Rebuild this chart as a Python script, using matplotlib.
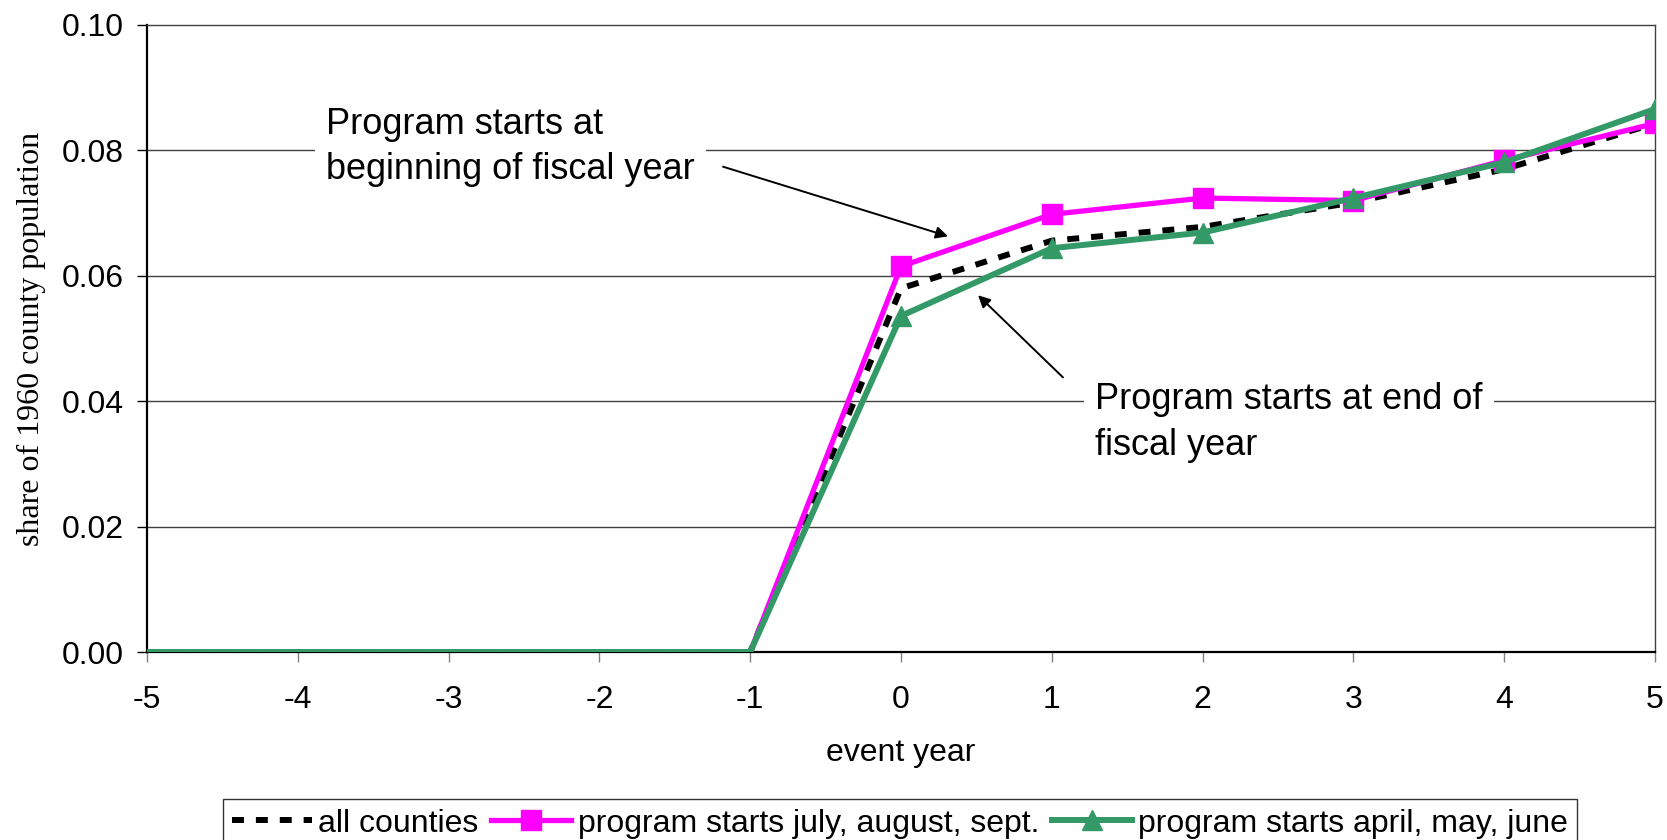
import matplotlib
matplotlib.use("Agg")
import matplotlib.pyplot as plt

plt.rcParams['font.family'] = ['Liberation Sans', 'DejaVu Sans']

# event years and series
years = [-5, -4, -3, -2, -1, 0, 1, 2, 3, 4, 5]
all_counties = [0, 0, 0, 0, 0, 0.0580, 0.0656, 0.0678, 0.0717, 0.0770, 0.0843]
july_sept = [0, 0, 0, 0, 0, 0.0615, 0.0698, 0.0724, 0.0720, 0.0784, 0.0843]
april_june = [0, 0, 0, 0, 0, 0.0536, 0.0644, 0.0669, 0.0724, 0.0781, 0.0866]

yticks = [0.00, 0.02, 0.04, 0.06, 0.08, 0.10]

W, H = 1667, 840
fig = plt.figure(figsize=(W / 100, H / 100), dpi=100)
ax = fig.add_axes([147 / W, 1 - 652 / H, (1655 - 147) / W, (652 - 25) / H])

ax.set_xlim(-5, 5)
ax.set_ylim(0, 0.1)

# gridlines
for y in yticks[1:-1]:
    ax.axhline(y, color='#404040', lw=1.0, zorder=1)

ax.plot(years, all_counties, color='black', lw=4.3, linestyle=(0, (2, 2)),
        label='all counties', zorder=3)
ax.plot(years, july_sept, color='#FF00FF', lw=3.8, marker='s', markersize=14,
        markevery=list(range(5, 11)), label='program starts july, august, sept.', zorder=4)
ax.plot(years, april_june, color='#339966', lw=4.3, marker='^', markersize=15,
        markevery=list(range(5, 11)), label='program starts april, may, june', zorder=5)

ax.set_xticks(years)
ax.set_xticklabels([str(y) for y in years])
ax.set_yticks(yticks)
ax.set_yticklabels(['%.2f' % y for y in yticks])
ax.tick_params(axis='x', direction='out', length=7, width=1, color='#808080',
               pad=17, labelsize=23)
ax.tick_params(axis='y', direction='out', length=7, width=1, color='black',
               pad=10, labelsize=23)

for s in ['left', 'bottom']:
    ax.spines[s].set_color('black')
    ax.spines[s].set_linewidth(1.6)
for s in ['top', 'right']:
    ax.spines[s].set_color('#404040')
    ax.spines[s].set_linewidth(1.0)

ax.set_xlabel('event year', fontsize=23)
ax.xaxis.set_label_coords(0.5, -0.1615)
ax.xaxis.label.set_va('center')
ax.set_ylabel('share of 1960 county population', fontsize=23,
              family=['Liberation Serif', 'DejaVu Serif'])
ax.yaxis.set_label_coords(-0.0765, 0.5)
ax.yaxis.label.set_va('center')

# annotations
box = dict(facecolor='white', edgecolor='none', pad=8)
ax.text(-3.813, 0.0870, 'Program starts at\nbeginning of fiscal year', fontsize=26,
        va='top', ha='left', linespacing=1.4, bbox=box, zorder=6)
ax.text(1.287, 0.0430, 'Program starts at end of\nfiscal year', fontsize=26,
        va='top', ha='left', linespacing=1.4, bbox=box, zorder=6)
arrow = dict(arrowstyle='-|>', color='black', lw=1.4, mutation_scale=18,
             shrinkA=0, shrinkB=0)
ax.annotate('', xy=(0.312, 0.0663), xytext=(-1.18, 0.0774), arrowprops=arrow, zorder=7)
ax.annotate('', xy=(0.511, 0.0569), xytext=(1.074, 0.0438), arrowprops=arrow, zorder=7)

leg = fig.legend(loc='upper center', bbox_to_anchor=(900 / W, 1 - 799 / H), ncol=3,
                 fontsize=23, frameon=True, fancybox=False, edgecolor='black',
                 handlelength=2.5, handletextpad=0.2, columnspacing=0.4,
                 borderpad=0.3, borderaxespad=0)
leg.get_frame().set_linewidth(1.0)

fig.savefig('out.png', dpi=100)
